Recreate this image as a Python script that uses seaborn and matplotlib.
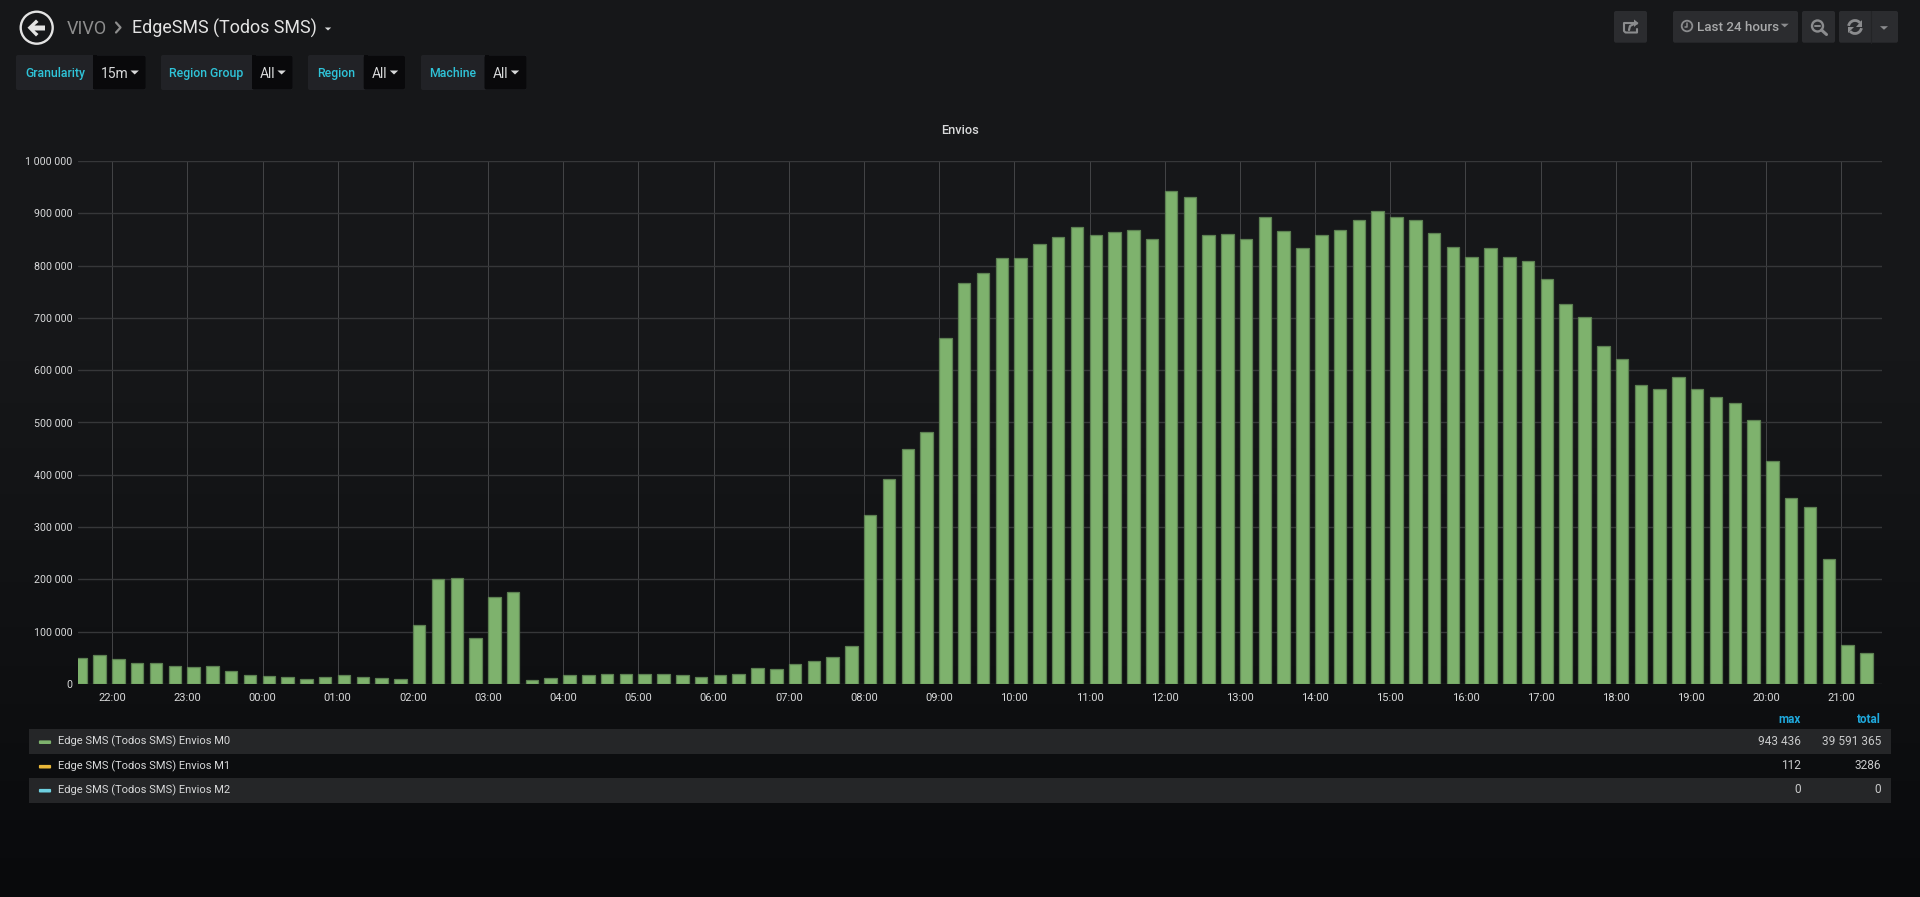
import numpy as np
import pandas as pd
import matplotlib
matplotlib.use("Agg")
import matplotlib.pyplot as plt
from matplotlib.patches import FancyBboxPatch, Circle, Polygon, Rectangle, Arc
from matplotlib.colors import LinearSegmentedColormap
from matplotlib.ticker import FuncFormatter
import seaborn as sns

# ---------- data ----------
envios_m0 = [
    50000, 56000, 48000, 41000, 41000, 35000, 32000, 35000, 25500, 18000,
    14600, 14000, 9500, 14000, 16500, 13000, 12000, 10000, 112000, 200000,
    203000, 87000, 167000, 176000, 8500, 11000, 17000, 17500, 18500, 19500,
    19700, 20000, 18000, 14000, 17000, 19000, 30000, 28700, 39000, 44600,
    52000, 73000, 324000, 392600, 448700, 482500, 662000, 767000, 786500, 814500,
    814000, 841000, 855000, 874000, 859000, 864000, 869000, 851000, 943436, 932000,
    858500, 860000, 851500, 893000, 866500, 834000, 858000, 868000, 887000, 904000,
    893000, 888000, 862000, 836000, 816000, 834000, 816000, 808000, 774000, 727000,
    702000, 646500, 622000, 572000, 564000, 587000, 565000, 548600, 538000, 504000,
    426500, 356000, 338000, 239000, 74400, 59700,
]
start_time = "2019-01-01 21:30"
tick_labels = ["22:00", "23:00", "00:00", "01:00", "02:00", "03:00", "04:00", "05:00",
               "06:00", "07:00", "08:00", "09:00", "10:00", "11:00", "12:00", "13:00",
               "14:00", "15:00", "16:00", "17:00", "18:00", "19:00", "20:00", "21:00"]
y_ticks = [0, 100000, 200000, 300000, 400000, 500000, 600000, 700000, 800000, 900000, 1000000]
legend_names = ["Edge SMS (Todos SMS) Envios M0", "Edge SMS (Todos SMS) Envios M1", "Edge SMS (Todos SMS) Envios M2"]
legend_colors = ["#7EB26D", "#EAB839", "#6ED0E0"]
legend_max = ["943 436", "112", "0"]
legend_total = ["39 591 365", "3286", "0"]
variables = [("Granularity", "15m"), ("Region Group", "All"), ("Region", "All"), ("Machine", "All")]

W, H = 1920, 897
sns.set_style("dark")
plt.rcParams["font.family"] = ["Roboto", "DejaVu Sans"]

fig = plt.figure(figsize=(W / 100, H / 100), dpi=100)

# ---------- page background ----------
bg = fig.add_axes([0, 0, 1, 1], zorder=0)
cmap = LinearSegmentedColormap.from_list(
    "page", [(0, "#161719"), (0.40, "#161719"), (0.70, "#101113"), (1, "#090a0c")])
bg.imshow(np.linspace(0, 1, 256).reshape(-1, 1), aspect="auto", cmap=cmap, extent=(0, W, H, 0))
bg.set_xlim(0, W)
bg.set_ylim(H, 0)
bg.axis("off")

# ---------- chart ----------
PL, PR, PT, PB = 77.5, 1882, 161, 684
ax = fig.add_axes([PL / W, 1 - PB / H, (PR - PL) / W, (PB - PT) / H], zorder=2)
ax.patch.set_alpha(0)

times = pd.date_range(start_time, periods=len(envios_m0), freq="15min")
first_tick = pd.Timestamp("2019-01-01 22:00")
hours = (times - first_tick) / pd.Timedelta(hours=1)
bar_frac = 0.665
# bars start on their timestamp, as in Grafana: shift the category centre by half a bar
df = pd.DataFrame({"x": hours + 0.25 * bar_frac / 2, "y": envios_m0})
sns.barplot(data=df, x="x", y="y", native_scale=True, width=bar_frac, color="#7EB26D",
            saturation=1, edgecolor="#5d8152", linewidth=0.9, ax=ax, zorder=3)
ax.set_xlim((PL - 112.2) / 75.18, (PR - 112.2) / 75.18)
ax.set_ylim(0, 1000000)
ax.set_xticks(np.arange(len(tick_labels)))
ax.set_xticklabels(tick_labels)
ax.set_yticks(y_ticks)
ax.yaxis.set_major_formatter(FuncFormatter(lambda v, p: f"{int(v):,}".replace(",", " ")))
ax.set_xlabel("")
ax.set_ylabel("")
ax.grid(False)
ax.grid(True, axis="y", color="#363739", lw=1.0, zorder=1)
ax.grid(True, axis="x", color="#444547", lw=0.7, zorder=1)
ax.set_axisbelow(True)
for s in ax.spines.values():
    s.set_visible(False)
ax.tick_params(axis="both", length=0, labelcolor="#d8d9da")
ax.tick_params(axis="x", pad=6.5, labelsize=8.0)
ax.tick_params(axis="y", pad=3.5, labelsize=7.7)

# ---------- Grafana chrome, in pixel coordinates ----------
ui = fig.add_axes([0, 0, 1, 1], zorder=1)
ui.set_xlim(0, W)
ui.set_ylim(H, 0)
ui.axis("off")
ui.patch.set_alpha(0)


def box(x0, x1, y0, y1, color, r=2.0, z=2):
    ui.add_patch(FancyBboxPatch((x0 + r, y0 + r), x1 - x0 - 2 * r, y1 - y0 - 2 * r,
                                boxstyle=f"round,pad={r},rounding_size={r}",
                                fc=color, ec="none", zorder=z))


def caret(x, y, color, w=4.5, h=4):
    ui.add_patch(Polygon([[x - w, y - h / 2], [x + w, y - h / 2], [x, y + h / 2]], closed=True,
                         fc=color, ec="none", zorder=5))


def label(x, y, s, size, color, ha="left", weight="normal"):
    # y is the vertical middle of the capitals, so mixed text lines up on one baseline
    ui.text(x, y + 0.355 * size * 1.389, s, fontsize=size, color=color, ha=ha, va="baseline",
            weight=weight, zorder=6)


# back button
ui.add_patch(Circle((36.7, 27.7), 16, fc="none", ec="#e3e3e3", lw=1.7, zorder=4))
ui.add_patch(Polygon([[27.5, 27.7], [36, 19.5], [38.5, 22], [34.5, 25.5], [45, 25.5],
                      [45, 30.5], [34.5, 30.5], [38.5, 34], [36, 36.5]],
                     closed=True, fc="#e3e3e3", ec="none", zorder=5))

label(67, 27.5, "VIVO", 13.0, "#8e8e8e")
ui.plot([116, 120.5, 116], [22.5, 27.5, 32.5], color="#8e8e8e", lw=1.6, zorder=5)
label(132, 27.5, "EdgeSMS (Todos SMS)", 12.9, "#e3e3e3")
caret(328, 29, "#d8d9da", 3.2, 3)

# template variables
var_geo = [(16, 93, 145.7, 25, 101, 134.7), (161, 252, 292.6, 169.4, 259.6, 281.6),
           (308, 363.7, 405, 317.5, 371.8, 394), (421, 484.5, 526.5, 429.4, 493, 515)]
for (name, value), (x0, xs, x1, xl, xv, xc) in zip(variables, var_geo):
    box(x0, x1, 55, 90, "#212226")
    box(xs, x1, 55.5, 89.5, "#09090b", z=3)
    ui.add_patch(Rectangle((xs, 55.5), 4, 34, fc="#09090b", ec="none", zorder=3))
    label(xl, 73, name, 8.8, "#2fc4d9", weight="medium")
    label(xv, 73.5, value, 10.0, "#d8d9da")
    caret(xc, 72.5, "#d8d9da", 4.2, 4)

# navbar buttons
BTN = "#2b2c2f"
ICON = "#8b8c8e"
box(1614, 1647, 11, 42.7, BTN)
box(1673, 1798, 11, 42.7, BTN)
box(1802, 1835, 11, 42.7, BTN)
box(1839, 1898, 11, 42.7, BTN)
ui.plot([1870.7, 1870.7], [11, 42.7], color="#232426", lw=0.8, zorder=4)

# share icon
ui.plot([1637, 1637, 1625.5, 1624, 1624, 1635], [29, 32.5, 32.5, 31, 23, 23], color=ICON, lw=1.5, zorder=5)
ui.plot([1629, 1630, 1635, 1637], [30, 26, 23.5, 23.5], color=ICON, lw=1.6, zorder=5)
ui.add_patch(Polygon([[1634, 19.5], [1638.5, 23], [1634, 27]], closed=True, fc=ICON, ec="none", zorder=5))

# time range
ui.add_patch(Circle((1687, 26), 5.3, fc="none", ec=ICON, lw=1.3, zorder=5))
ui.plot([1687, 1687, 1684.5], [23, 26.7, 26.7], color=ICON, lw=1.1, zorder=5)
label(1696.7, 26.5, "Last 24 hours", 9.6, "#a8a9aa", weight="medium")
caret(1784.7, 25.5, ICON, 4, 3.6)

# zoom out icon
ui.add_patch(Circle((1817.5, 26), 5.5, fc="none", ec=ICON, lw=1.7, zorder=5))
ui.plot([1815, 1820], [26, 26], color=ICON, lw=1.4, zorder=5)
ui.plot([1821.5, 1826.5], [30, 34.5], color=ICON, lw=2.2, zorder=5)

# refresh icon
ui.add_patch(Arc((1855, 27), 13, 13, theta1=190, theta2=320, ec=ICON, lw=2, zorder=5))
ui.add_patch(Arc((1855, 27), 13, 13, theta1=10, theta2=140, ec=ICON, lw=2, zorder=5))
ui.add_patch(Polygon([[1862, 20.5], [1862, 27], [1856, 27]], closed=True, fc=ICON, ec="none", zorder=5))
ui.add_patch(Polygon([[1848, 33.5], [1848, 27], [1854, 27]], closed=True, fc=ICON, ec="none", zorder=5))
caret(1884, 28, ICON, 4, 3.6)

# panel title
label(960, 129, "Envios", 9.2, "#d8d9da", ha="center", weight="medium")

# legend table
HDR = "#1fa8dc"
label(1800.7, 719, "max", 8.4, HDR, ha="right", weight="bold")
label(1881, 719, "total", 8.4, HDR, ha="right", weight="bold")
row_y = [740.5, 765, 789]
ui.add_patch(Rectangle((29, 729), 1862, 25, fc="#252628", ec="none", zorder=2))
ui.add_patch(Rectangle((29, 778), 1862, 25, fc="#252628", ec="none", zorder=2))
for y, name, col, mx, tot in zip(row_y, legend_names, legend_colors, legend_max, legend_total):
    ui.add_patch(FancyBboxPatch((39.5, y + 0.5), 11, 2.4, boxstyle="round,pad=0.6,rounding_size=1",
                                fc=col, ec="none", zorder=4))
    label(58, y, name, 8.0, "#d8d9da")
    label(1800.7, y, mx, 8.6, "#c8c9ca", ha="right")
    label(1881, y, tot, 8.6, "#c8c9ca", ha="right")

fig.savefig("out.png", dpi=100, facecolor="#161719")
